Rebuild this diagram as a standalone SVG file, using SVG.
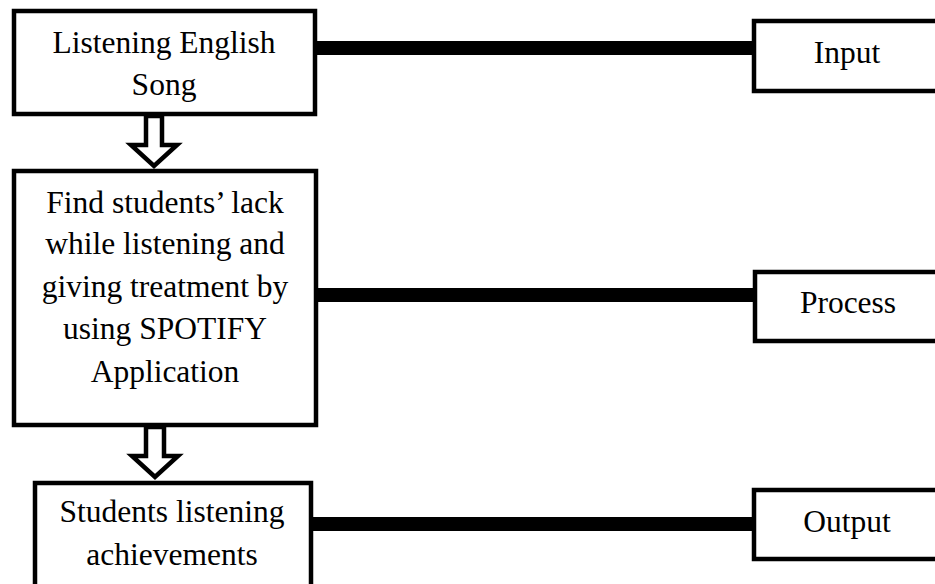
<svg xmlns="http://www.w3.org/2000/svg" width="935" height="584" viewBox="0 0 935 584">
<style>
.box{fill:#fff;stroke:#000;stroke-width:4.5}
.arrow{fill:#fff;stroke:#000;stroke-width:4.5;stroke-linejoin:miter}
.bar{stroke:#000;stroke-width:14;fill:none}
text{font-family:"Liberation Serif","Times New Roman",serif;font-size:31.5px;fill:#000;text-anchor:middle}
</style>
<rect width="935" height="584" fill="#fff"/>
<g id="connectors">
<line class="bar" x1="316" y1="48" x2="754" y2="48"/>
<line class="bar" x1="316" y1="295" x2="754" y2="295"/>
<line class="bar" x1="311" y1="524" x2="754" y2="524"/>
<polygon class="arrow" points="146,116 162,116 162,145 177,145 154,166 131,145 146,145"/>
<polygon class="arrow" points="146,427 164,427 164,456 178,456 155,477 132,456 146,456"/>
</g>
<g id="node-listening">
<rect class="box" x="14" y="11" width="301" height="103"/>
<text x="164" y="53">Listening English</text>
<text x="164" y="95">Song</text>
</g>
<g id="node-find">
<rect class="box" x="14" y="171" width="302" height="254"/>
<text x="165" y="213">Find students’ lack</text>
<text x="165" y="254">while listening and</text>
<text x="165" y="297">giving treatment by</text>
<text x="165" y="339">using SPOTIFY</text>
<text x="165" y="382">Application</text>
</g>
<g id="node-students">
<rect class="box" x="35" y="483" width="276" height="110"/>
<text x="172" y="522">Students listening</text>
<text x="172" y="565">achievements</text>
</g>
<g id="node-input">
<rect class="box" x="754" y="21" width="200" height="70"/>
<text x="847" y="63">Input</text>
</g>
<g id="node-process">
<rect class="box" x="755" y="272" width="200" height="69"/>
<text x="848" y="313">Process</text>
</g>
<g id="node-output">
<rect class="box" x="754" y="490" width="200" height="69"/>
<text x="847" y="532">Output</text>
</g>
</svg>
